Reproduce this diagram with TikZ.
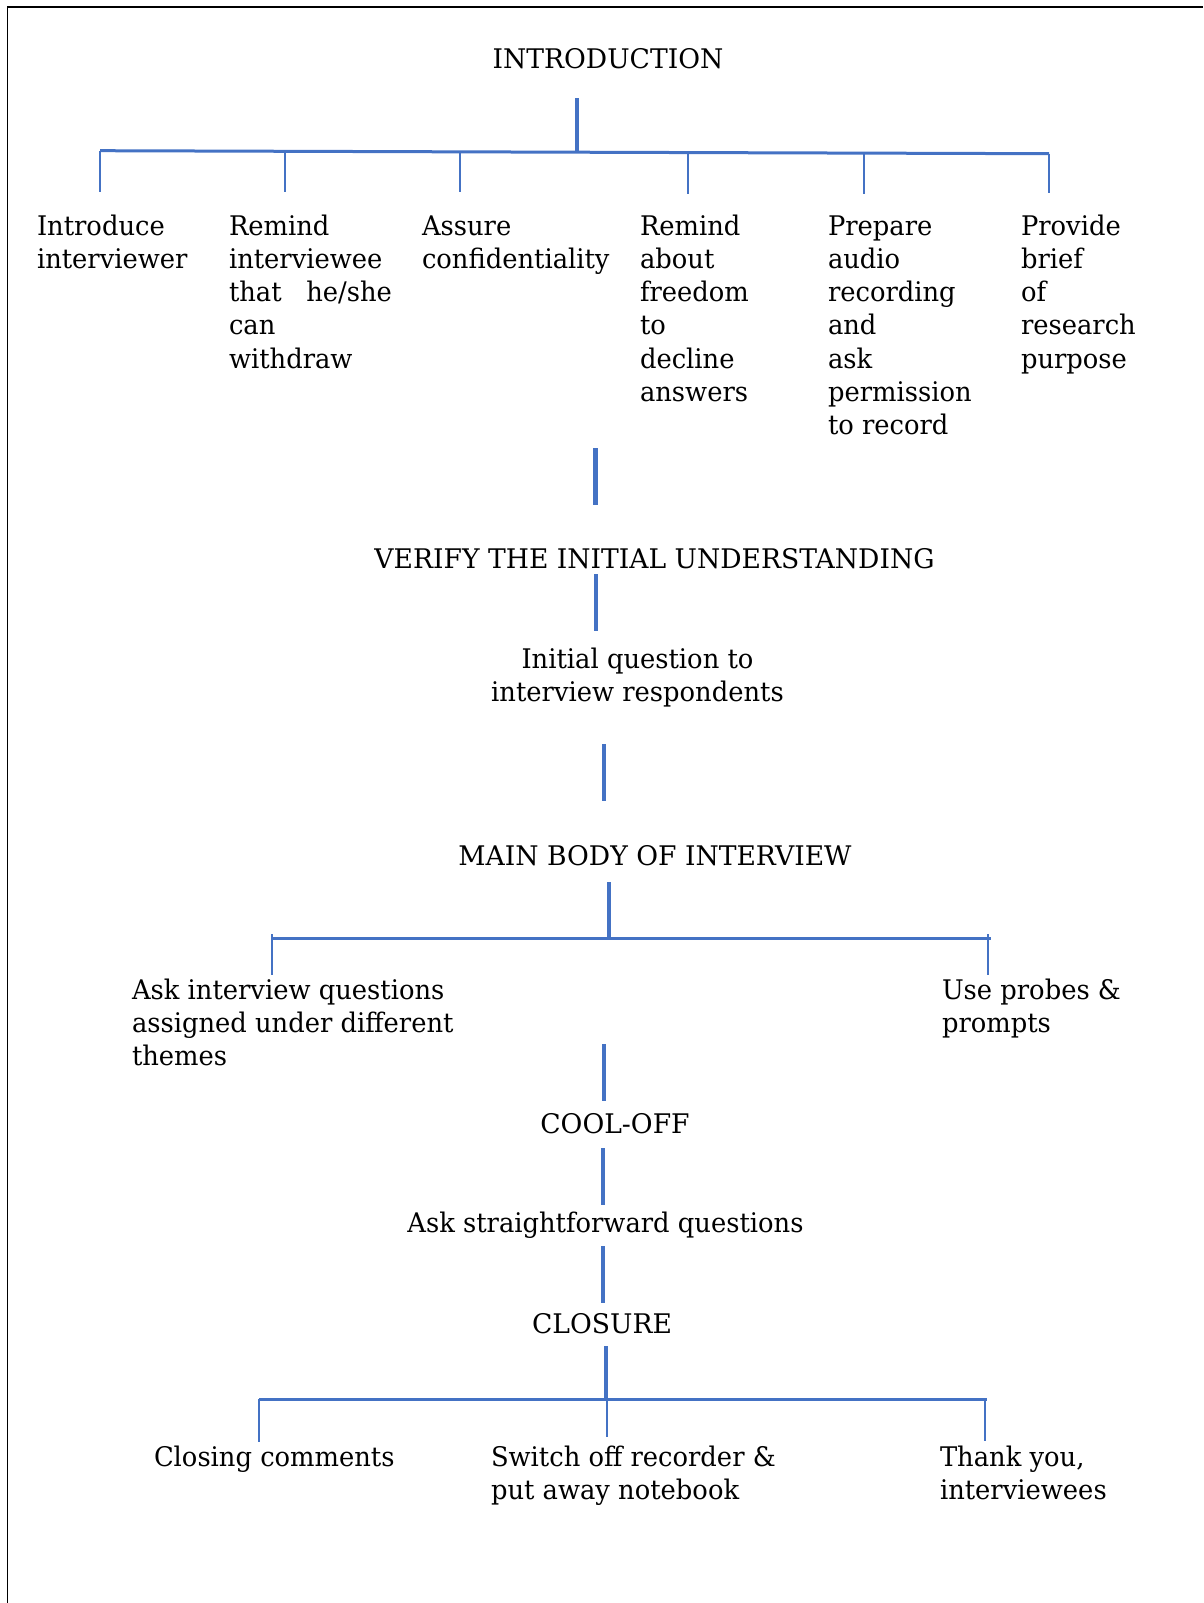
\documentclass[tikz,border=0pt]{standalone}
\usepackage{fontspec}
\setmainfont{DejaVu Serif}[FakeStretch=0.955]
% capital-letter headings run a little wider
\newfontfamily\headingfont{DejaVu Serif}[FakeStretch=0.985]
\definecolor{officeblue}{HTML}{4472C4}
\begin{document}
\begin{tikzpicture}[x=1pt,y=-1pt,
  txt/.style={inner sep=0pt, outer sep=0pt, font=\fontsize{27}{33.3}\selectfont},
  % multi-line nodes are placed at the baseline of their last line
  item/.style={txt, align=left, anchor=base west},
  head/.style={txt, align=center, anchor=base},
  caps/.style={head, font=\headingfont\fontsize{27}{33.3}\selectfont},
  stem/.style={draw=officeblue, line width=4.5pt},
  bar/.style={draw=officeblue, line width=3pt},
  drop/.style={draw=officeblue, line width=2pt}]
\useasboundingbox (0,0) rectangle (1203,1603);

% page frame
\draw[line width=2.5pt] (7,7) -- (1203,7);
\draw[line width=1.4pt] (7.5,7) -- (7.5,1603);

% ---------- introduction ----------
\node[caps] (intro) at (608,68) {INTRODUCTION};
\node[item] (i1) at (37,268.3)  {Introduce\\interviewer};
\node[item] (i2) at (229,368.2) {Remind\\interviewee\\that\ \ \ he/she\\can\\withdraw};
\node[item] (i3) at (422,268.3) {Assure\\confidentiality};
\node[item] (i4) at (640,401.5) {Remind\\about\\freedom\\to\\decline\\answers};
\node[item] (i5) at (828,434.8) {Prepare\\audio\\recording\\and\\ask\\permission\\to record};
\node[item] (i6) at (1021,368.2) {Provide\\brief\\of\\research\\purpose};

\coordinate (introTop) at (577,98);
\coordinate (introHub) at (577,152.2);
\coordinate (introL) at (100,150.7);
\coordinate (introR) at (1049,153.7);
\draw[stem] (introTop) -- (introHub);
\draw[bar] (introL) -- (introR);
\foreach \x/\yt/\yb/\n in {100/150.7/192/1, 285/151.3/192/2, 460/151.8/192/3, 688/152.6/194/4, 864/153.1/194/5, 1049/153.7/193/6}{
  \coordinate (d\n t) at (\x,\yt);
  \coordinate (d\n b) at (\x,\yb);
  \draw[drop] (d\n t) -- (d\n b);
}

% ---------- verification ----------
\coordinate (s1a) at (595.5,448);
\coordinate (s1b) at (595.5,505);
\draw[stem] (s1a) -- (s1b);
\node[caps] (verify) at (654.5,568) {VERIFY THE INITIAL UNDERSTANDING};
\coordinate (s2a) at (596,574);
\coordinate (s2b) at (596,631);
\draw[stem] (s2a) -- (s2b);
\node[head] (initq) at (637.5,701.3) {Initial question to\\interview respondents};
\coordinate (s3a) at (604,744);
\coordinate (s3b) at (604,801);
\draw[stem] (s3a) -- (s3b);

% ---------- main body ----------
\node[caps] (main) at (655,865) {MAIN BODY OF INTERVIEW};
\coordinate (mTop) at (609,882);
\coordinate (mHub) at (609,938);
\coordinate (mL) at (271.5,938);
\coordinate (mR) at (991,938);
\draw[stem] (mTop) -- (mHub);
\draw[bar] (mL) -- (mR);
\coordinate (m1t) at (271.5,934);
\coordinate (m1b) at (271.5,975);
\coordinate (m2t) at (988,934);
\coordinate (m2b) at (988,975);
\draw[drop] (m1t) -- (m1b);
\draw[drop] (m2t) -- (m2b);
\node[item] (ask) at (132,1065.6) {Ask interview questions\\assigned under different\\themes};
\node[item] (probe) at (942,1032.3) {Use probes \&\\prompts};

% ---------- cool-off ----------
\coordinate (s4a) at (604,1044);
\coordinate (s4b) at (604,1101);
\draw[stem] (s4a) -- (s4b);
\node[caps] (cool) at (615,1133) {COOL-OFF};
\coordinate (s5a) at (603,1148);
\coordinate (s5b) at (603,1205);
\draw[stem] (s5a) -- (s5b);
\node[head] (straight) at (605.5,1232) {Ask straightforward questions};
\coordinate (s6a) at (603,1246);
\coordinate (s6b) at (603,1303);
\draw[stem] (s6a) -- (s6b);

% ---------- closure ----------
\node[caps] (closure) at (602,1333) {CLOSURE};
\coordinate (cTop) at (606,1346);
\coordinate (cHub) at (606,1400);
\coordinate (cL) at (259,1399);
\coordinate (cR) at (987,1399);
\draw[stem] (cTop) -- (cHub);
\draw[bar] (cL) -- (cR);
\coordinate (c1t) at (259,1399);
\coordinate (c1b) at (259,1442);
\coordinate (c2t) at (607,1399);
\coordinate (c2b) at (607,1437);
\coordinate (c3t) at (985,1399);
\coordinate (c3b) at (985,1441);
\draw[drop] (c1t) -- (c1b);
\draw[drop, line width=1.5pt] (c2t) -- (c2b);
\draw[drop] (c3t) -- (c3b);
\node[item] (closing) at (154,1466) {Closing comments};
\node[item] (switch) at (491,1499.3) {Switch off recorder \&\\put away notebook};
\node[item] (thanks) at (940,1499.3) {Thank you,\\interviewees};
\end{tikzpicture}
\end{document}
